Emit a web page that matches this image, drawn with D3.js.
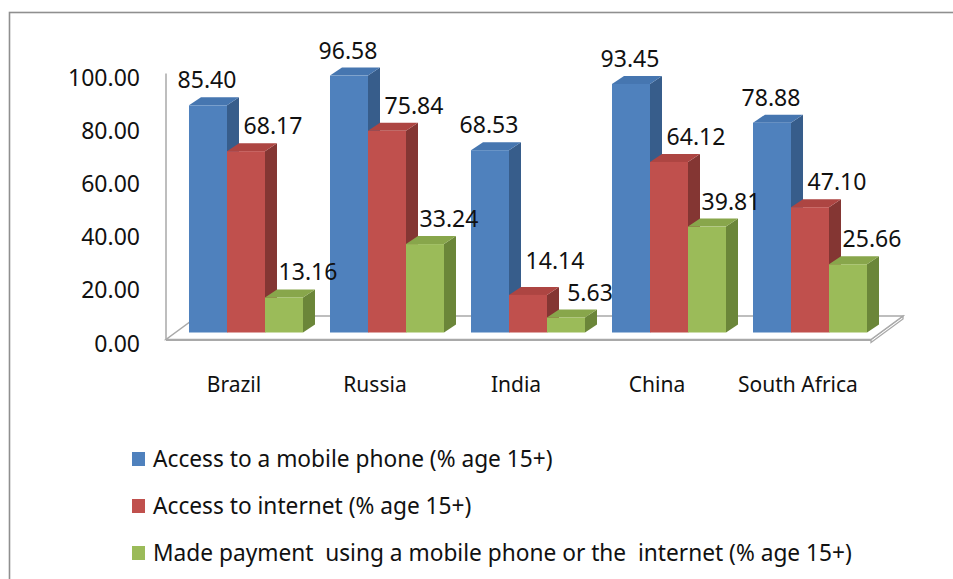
<!DOCTYPE html>
<html>
<head>
<meta charset="utf-8">
<script src="https://cdn.jsdelivr.net/npm/d3@7/dist/d3.min.js"></script>
<style>
  html, body { margin: 0; padding: 0; background: #fff; }
  svg { display: block; }
  text { font-family: "Noto Sans", "Open Sans", sans-serif; fill: #111; }
</style>
</head>
<body>
<svg id="chart" width="953" height="579"></svg>
<script>
// Financial access indicators for the BRICS economies
const categories = ["Brazil", "Russia", "India", "China", "South Africa"];
const mobilePhone = [85.40, 96.58, 68.53, 93.45, 78.88];
const internet = [68.17, 75.84, 14.14, 64.12, 47.10];
const payment = [13.16, 33.24, 5.63, 39.81, 25.66];
const seriesNames = [
  "Access to a mobile phone (% age 15+)",
  "Access to internet (% age 15+)",
  "Made payment  using a mobile phone or the  internet (% age 15+)"
];
const yTicks = [0, 20, 40, 60, 80, 100];

const seriesValues = [mobilePhone, internet, payment];

// face shades: front, top, side
const palette = [
  { front: "#4f81bd", top: "#4676b0", side: "#375d8b" },
  { front: "#c0504d", top: "#ad4542", side: "#843633" },
  { front: "#9bbb59", top: "#88a64b", side: "#6b8639" }
];
// label nudges per series, so neighbouring labels do not collide
const labelShift = [-1, 27, 24];
const labelSize = 23;

const svg = d3.select("#chart");

// outer chart frame (runs off the right and bottom)
svg.append("rect")
  .attr("x", 9.5).attr("y", 12.5)
  .attr("width", 1000).attr("height", 1000)
  .attr("fill", "none").attr("stroke", "#8f8f8f").attr("stroke-width", 1.6);

// scales on the plane of the bar fronts
const x0 = d3.scaleBand().domain(categories)
  .range([175.5, 880.5]).paddingInner(0.1915).paddingOuter(0.0957);
const x1 = d3.scaleBand().domain(d3.range(seriesNames.length))
  .range([0, x0.bandwidth()]);
const y = d3.scaleLinear().domain([0, 100]).range([332.5, 66.5]);

// depth projection
const barDepth = { dx: 12, dy: -8 };
const floorFront = { dx: -9.5, dy: 7 };
const floorBack = { dx: 22.5, dy: -16.5 };
const yFront = v => y(v) + floorFront.dy;

const [rx0, rx1] = x0.range();
const floorPts = [
  [rx0 + floorFront.dx, y(0) + floorFront.dy],
  [rx1 + floorFront.dx, y(0) + floorFront.dy],
  [rx1 + floorBack.dx, y(0) + floorBack.dy],
  [rx0 + floorBack.dx, y(0) + floorBack.dy]
];
const poly = pts => "M" + pts.map(p => p.join(",")).join("L") + "Z";

const gFloor = svg.append("g");
// slab thickness on the right end
gFloor.append("path")
  .attr("d", poly([floorPts[1], floorPts[2], [floorPts[2][0], floorPts[2][1] + 3], [floorPts[1][0], floorPts[1][1] + 3]]))
  .attr("fill", "#fff").attr("stroke", "#a9a9a9").attr("stroke-width", 1.3);
gFloor.append("path")
  .attr("d", poly(floorPts))
  .attr("fill", "#fff").attr("stroke", "#a9a9a9").attr("stroke-width", 1.5);
gFloor.append("line")
  .attr("x1", floorPts[0][0]).attr("x2", floorPts[1][0])
  .attr("y1", floorPts[0][1] + 0.5).attr("y2", floorPts[1][1] + 0.5)
  .attr("stroke", "#a9a9a9").attr("stroke-width", 2.2);

// value axis line at the front-left edge
svg.append("line")
  .attr("x1", floorPts[0][0]).attr("x2", floorPts[0][0])
  .attr("y1", yFront(100)).attr("y2", yFront(0))
  .attr("stroke", "#a9a9a9").attr("stroke-width", 1.5);

// value axis labels
svg.append("g").selectAll("text").data(yTicks).join("text")
  .attr("x", 140).attr("y", d => yFront(d) + 12)
  .attr("text-anchor", "end")
  .style("font-size", "23px")
  .text(d => d3.format(".2f")(d));

// bars
const gBars = svg.append("g");
categories.forEach((cat, ci) => {
  seriesValues.forEach((vals, si) => {
    const v = vals[ci];
    const xl = x0(cat) + x1(si);
    const xr = xl + x1.bandwidth();
    const yt = y(v), yb = y(0);
    const { dx, dy } = barDepth;
    const c = palette[si];
    gBars.append("path")
      .attr("d", poly([[xr, yt], [xr + dx, yt + dy], [xr + dx, yb + dy], [xr, yb]]))
      .attr("fill", c.side);
    gBars.append("path")
      .attr("d", poly([[xl, yt], [xl + dx, yt + dy], [xr + dx, yt + dy], [xr, yt]]))
      .attr("fill", c.top);
    gBars.append("rect")
      .attr("x", xl).attr("y", yt)
      .attr("width", x1.bandwidth()).attr("height", yb - yt)
      .attr("fill", c.front);
  });
});

// data labels; a label that would crowd the next one in its group is lifted
const gLabels = svg.append("g");
const capH = labelSize * 0.72;
categories.forEach((cat, ci) => {
  const placed = seriesValues.map((vals, si) => {
    const v = vals[ci];
    const t = gLabels.append("text")
      .attr("x", x0(cat) + x1(si) + x1.bandwidth() / 2 + labelShift[si])
      .attr("text-anchor", "middle")
      .style("font-size", labelSize + "px")
      .text(d3.format(".2f")(v));
    const w = t.node().getComputedTextLength();
    const cx = +t.attr("x");
    return { t, base: y(v) - 17, x0: cx - w / 2, x1: cx + w / 2 };
  });
  for (let si = placed.length - 2; si >= 0; si--) {
    const a = placed[si], b = placed[si + 1];
    const overlapX = a.x1 > b.x0 && b.x1 > a.x0;
    const nextTop = b.base - capH;
    if (overlapX && a.base + 10 > nextTop) a.base = nextTop - 15;
  }
  placed.forEach(p => p.t.attr("y", p.base));
});

// category labels
svg.append("g").selectAll("text").data(categories).join("text")
  .attr("x", d => x0(d) + x0.bandwidth() / 2 - 12)
  .attr("y", 392)
  .attr("text-anchor", "middle")
  .style("font-size", "21px")
  .text(d => d);

// legend
const legend = svg.append("g");
seriesNames.forEach((name, i) => {
  const row = legend.append("g").attr("transform", `translate(0, ${i * 47})`);
  row.append("rect")
    .attr("x", 132).attr("y", 452)
    .attr("width", 13).attr("height", 14)
    .attr("fill", palette[i].front);
  row.append("text")
    .attr("x", 153).attr("y", 466.5)
    .style("font-size", "22.7px")
    .style("white-space", "pre")
    .text(name);
});
</script>
</body>
</html>
